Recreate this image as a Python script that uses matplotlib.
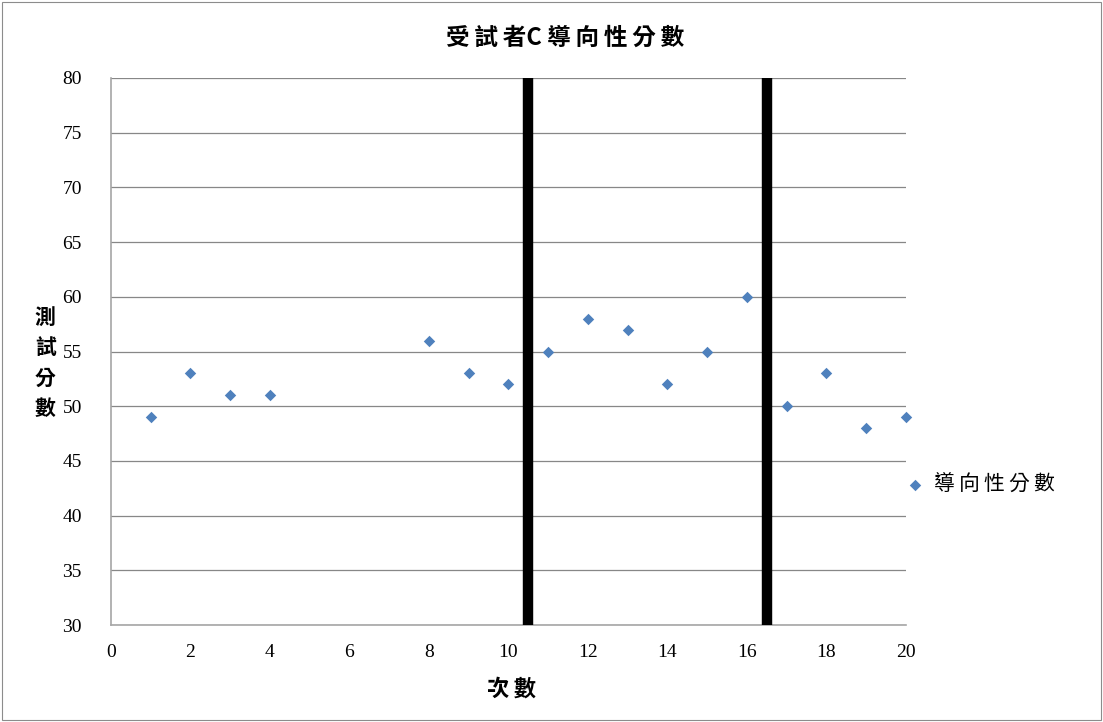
import matplotlib
matplotlib.use("Agg")
import matplotlib.pyplot as plt
from matplotlib.patches import Rectangle

sessions = [1, 2, 3, 4, 8, 9, 10, 11, 12, 13, 14, 15, 16, 17, 18, 19, 20]
scores = [49, 53, 51, 51, 56, 53, 52, 55, 58, 57, 52, 55, 60, 50, 53, 48, 49]
phase_breaks = [10.5, 16.5]
x_ticks = list(range(0, 21, 2))
y_ticks = list(range(30, 81, 5))

cjk = ["Noto Sans CJK TC", "DejaVu Sans"]
num_font = "Liberation Serif"
THIN = "\u2009"


def spaced(s):
    return THIN.join(s)


fig = plt.figure(figsize=(11.03, 7.22), dpi=100)
ax = fig.add_axes([0.1006, 0.1343, 0.7208, 0.7577])

ax.scatter(sessions, scores, marker="D", s=34, color="#4F81BD", zorder=4,
           label=spaced("導向性分數"), linewidths=0, clip_on=False)
for xb in phase_breaks:
    ax.axvline(xb, color="black", linewidth=7.5, zorder=3)

ax.set_xlim(0, 20)
ax.set_ylim(30, 80)
ax.set_xticks(x_ticks)
ax.set_yticks(y_ticks)
ax.tick_params(axis="x", length=0, pad=14, labelsize=14)
ax.tick_params(axis="y", length=0, pad=21, labelsize=14)
for lbl in ax.get_xticklabels() + ax.get_yticklabels():
    lbl.set_fontfamily(num_font)
ax.yaxis.grid(True, color="#878787", linewidth=0.9)
ax.set_axisbelow(True)
for side in ["top", "right"]:
    ax.spines[side].set_visible(False)
for side in ["left", "bottom"]:
    ax.spines[side].set_color("#A6A6A6")
    ax.spines[side].set_linewidth(1.2)

fig.text(0.512, 0.948, spaced("受試者") + "C " + spaced("導向性分數"),
         ha="center", va="center", fontsize=17, fontweight="bold", family=cjk)
fig.text(0.464, 0.046, spaced("次數"), ha="center", va="center",
         fontsize=16, fontweight="bold", family=cjk)
fig.text(0.041, 0.497, "測\n試\n分\n數", ha="center", va="center",
         fontsize=15, fontweight="bold", family=cjk, linespacing=1.55)

leg = ax.legend(loc="center left", bbox_to_anchor=(0.98, 0.257), frameon=False,
                prop={"family": cjk, "size": 15}, handletextpad=0.4,
                handlelength=1.0, borderaxespad=0.3)

fig.patches.append(Rectangle((0.002, 0.003), 0.996, 0.994, transform=fig.transFigure,
                             fill=False, edgecolor="#8C8C8C", linewidth=0.8))

fig.savefig("out.png", dpi=100)
